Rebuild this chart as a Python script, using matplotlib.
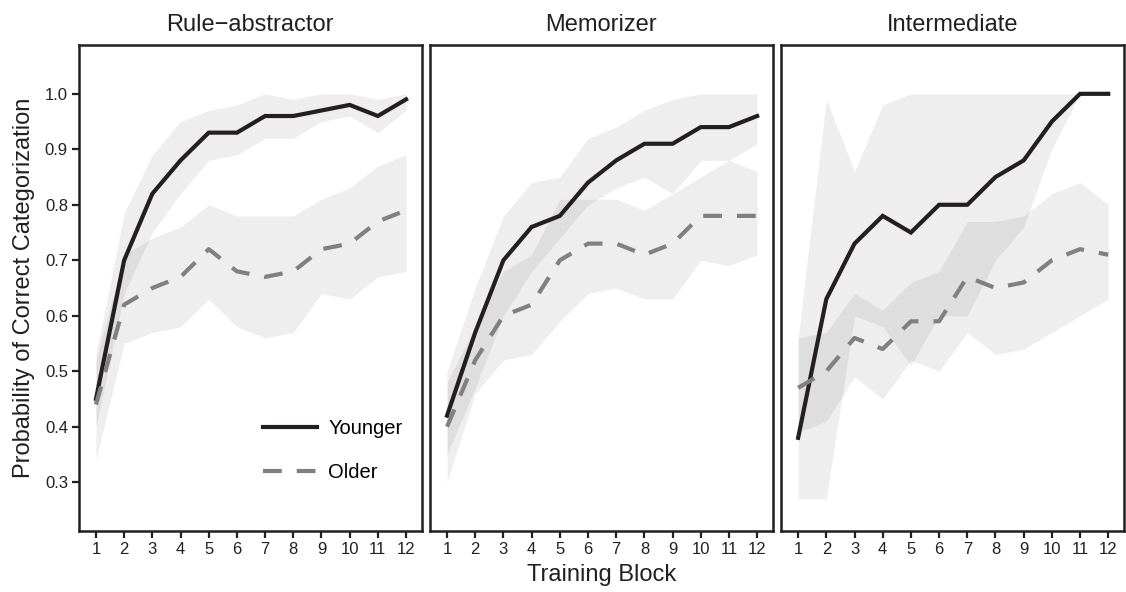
import numpy as np
import matplotlib.pyplot as plt

plt.rcParams['font.family'] = ['Liberation Sans', 'DejaVu Sans']

blocks = np.arange(1, 13)
panel_titles = ['Rule\u2212abstractor', 'Memorizer', 'Intermediate']

# Rule-abstractor
rule_young = [0.45, 0.70, 0.82, 0.88, 0.93, 0.93, 0.96, 0.96, 0.97, 0.98, 0.96, 0.99]
rule_young_lo = [0.40, 0.64, 0.75, 0.82, 0.88, 0.89, 0.92, 0.92, 0.95, 0.96, 0.93, 0.97]
rule_young_hi = [0.53, 0.785, 0.89, 0.95, 0.97, 0.98, 1.0, 0.99, 1.0, 1.0, 0.99, 1.0]
rule_old = [0.44, 0.62, 0.65, 0.67, 0.72, 0.68, 0.67, 0.68, 0.72, 0.73, 0.77, 0.79]
rule_old_lo = [0.34, 0.55, 0.57, 0.58, 0.63, 0.58, 0.56, 0.57, 0.64, 0.63, 0.67, 0.68]
rule_old_hi = [0.52, 0.71, 0.74, 0.76, 0.80, 0.78, 0.78, 0.78, 0.81, 0.83, 0.87, 0.89]

# Memorizer
mem_young = [0.42, 0.57, 0.70, 0.76, 0.78, 0.84, 0.88, 0.91, 0.91, 0.94, 0.94, 0.96]
mem_young_lo = [0.35, 0.47, 0.60, 0.68, 0.74, 0.80, 0.83, 0.85, 0.82, 0.88, 0.88, 0.91]
mem_young_hi = [0.50, 0.65, 0.78, 0.84, 0.85, 0.92, 0.94, 0.97, 0.99, 1.0, 1.0, 1.0]
mem_old = [0.40, 0.52, 0.60, 0.62, 0.70, 0.73, 0.73, 0.71, 0.73, 0.78, 0.78, 0.78]
mem_old_lo = [0.30, 0.46, 0.52, 0.53, 0.59, 0.64, 0.65, 0.63, 0.63, 0.70, 0.69, 0.71]
mem_old_hi = [0.48, 0.58, 0.68, 0.71, 0.81, 0.81, 0.81, 0.79, 0.82, 0.85, 0.88, 0.86]

# Intermediate
int_young = [0.38, 0.63, 0.73, 0.78, 0.75, 0.80, 0.80, 0.85, 0.88, 0.95, 1.0, 1.0]
int_young_lo = [0.27, 0.27, 0.60, 0.58, 0.51, 0.60, 0.60, 0.70, 0.76, 0.90, 1.0, 1.0]
int_young_hi = [0.56, 0.99, 0.86, 0.98, 1.0, 1.0, 1.0, 1.0, 1.0, 1.0, 1.0, 1.0]
int_old = [0.47, 0.50, 0.56, 0.54, 0.59, 0.59, 0.67, 0.65, 0.66, 0.70, 0.72, 0.71]
int_old_lo = [0.39, 0.41, 0.49, 0.45, 0.52, 0.50, 0.57, 0.53, 0.54, 0.57, 0.60, 0.63]
int_old_hi = [0.56, 0.57, 0.64, 0.61, 0.66, 0.68, 0.77, 0.77, 0.78, 0.82, 0.84, 0.80]

young = [rule_young, mem_young, int_young]
young_lo = [rule_young_lo, mem_young_lo, int_young_lo]
young_hi = [rule_young_hi, mem_young_hi, int_young_hi]
old = [rule_old, mem_old, int_old]
old_lo = [rule_old_lo, mem_old_lo, int_old_lo]
old_hi = [rule_old_hi, mem_old_hi, int_old_hi]

ink = '#231f20'

fig, axes = plt.subplots(1, 3, figsize=(11.26, 5.92), dpi=100, sharey=True)
fig.subplots_adjust(left=0.0702, right=0.998, bottom=0.103, top=0.924, wspace=0.025)

for i, ax in enumerate(axes):
    ax.fill_between(blocks, young_lo[i], young_hi[i], color='black', alpha=0.067, lw=0)
    ax.fill_between(blocks, old_lo[i], old_hi[i], color='black', alpha=0.067, lw=0)
    ax.plot(blocks, young[i], color=ink, lw=3, label='Younger', solid_joinstyle='miter')
    ax.plot(blocks, old[i], color='#808080', lw=3, dashes=(4.5, 3.6), label='Older')
    ax.set_xlim(0.4, 12.55)
    ax.set_ylim(0.212, 1.088)
    ax.set_xticks(blocks)
    ax.set_yticks([0.3, 0.4, 0.5, 0.6, 0.7, 0.8, 0.9, 1.0])
    ax.set_title(panel_titles[i], fontsize=17, pad=10, color=ink)
    for s in ax.spines.values():
        s.set_linewidth(1.8)
        s.set_color(ink)
    ax.tick_params(axis='both', length=5, width=1.6, color=ink, labelsize=12,
                   labelcolor=ink, pad=3)
    if i > 0:
        ax.tick_params(axis='y', left=False)

axes[0].set_ylabel('Probability of Correct Categorization', fontsize=17, color=ink, labelpad=7)
axes[1].set_xlabel('Training Block', fontsize=17, color=ink, labelpad=5)

axes[0].legend(loc='lower left', bbox_to_anchor=(0.537, 0.1), frameon=False,
               fontsize=14.5, handlelength=2.7, handletextpad=0.55,
               labelspacing=1.25, borderpad=0, borderaxespad=0)

fig.savefig('out.png', dpi=100)
